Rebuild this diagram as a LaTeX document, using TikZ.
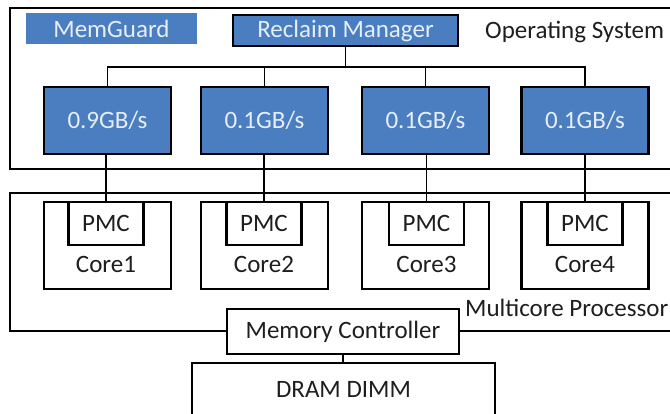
\documentclass[tikz,border=0pt]{standalone}
\usepackage{fontspec}
\setmainfont{Carlito}
\definecolor{boxblue}{HTML}{4A7EC0}
\definecolor{txtlight}{HTML}{E6EEF8}
\definecolor{ink}{HTML}{1E1E1E}
\tikzset{
  lbl/.style={font=\fontsize{25}{29}\selectfont, text=ink, inner sep=0pt},
  bluebox/.style={draw=black, line width=2.2pt, fill=boxblue, text=txtlight, font=\fontsize{25}{29}\selectfont, minimum width=127pt, minimum height=67pt, inner sep=0pt},
  corebox/.style={draw=black, line width=2.2pt, fill=white, minimum width=127pt, minimum height=87pt, inner sep=0pt},
  pmcbox/.style={draw=black, line width=2.2pt, fill=white, text=ink, font=\fontsize{25}{29}\selectfont, minimum width=75pt, minimum height=43pt, inner sep=0pt},
  plainbox/.style={draw=black, line width=2.2pt, fill=white, text=ink, font=\fontsize{25}{29}\selectfont, inner sep=0pt},
  frame/.style={draw=black, line width=2.2pt},
  wire/.style={draw=black, line width=1.3pt},
}
\begin{document}
\begin{tikzpicture}[x=1pt,y=-1pt]
\clip (0,0) rectangle (670,413);
\useasboundingbox (0,0) rectangle (670,413);
\fill[white] (0,0) rectangle (670,413);
% frames
\draw[frame] (10,8) rectangle (690,169);
\draw[frame] (10,193) rectangle (690,331);
% OS layer
\node[fill=boxblue, text=txtlight, font=\fontsize{25}{29}\selectfont, minimum width=171pt, minimum height=31pt, inner sep=0pt] (mg) at (111.5,28.5) {MemGuard};
\node[draw=black, line width=2.2pt, fill=boxblue, text=txtlight, font=\fontsize{25}{29}\selectfont, minimum width=225pt, minimum height=31pt, inner sep=0pt] (rm) at (345.5,30.5) {Reclaim Manager};
\node[lbl, anchor=west] (os) at (485,32) {Operating System};
\node[bluebox] (b1) at (107.5,120.5) {0.9GB/s};
\node[bluebox] (b2) at (264.5,120.5) {0.1GB/s};
\node[bluebox] (b3) at (425.5,120.5) {0.1GB/s};
\node[bluebox] (b4) at (585,120.5) {0.1GB/s};
\coordinate (bus) at (0,67);
\draw[wire] (b1.north) -- (b1.north |- bus) -- (b4.north |- bus) -- (b4.north);
\draw[wire] (b2.north) -- (b2.north |- bus);
\draw[wire] (b3.north) -- (b3.north |- bus);
\draw[wire] (rm.south) -- (rm.south |- bus);
% cores
\node[corebox] (c1) at (107.5,245.5) {};
\node[corebox] (c2) at (264.5,245.5) {};
\node[corebox] (c3) at (425.5,245.5) {};
\node[corebox] (c4) at (585,245.5) {};
\node[pmcbox] (p1) at (106,223.5) {PMC};
\node[pmcbox] (p2) at (264,223.5) {PMC};
\node[pmcbox] (p3) at (426.5,223.5) {PMC};
\node[pmcbox] (p4) at (585,223.5) {PMC};
\node[lbl] (l1) at (106,264) {Core1};
\node[lbl] (l2) at (264,264) {Core2};
\node[lbl] (l3) at (426.5,264) {Core3};
\node[lbl] (l4) at (585,264) {Core4};
\draw[wire] (b1.south -| p1.north) -- (p1.north);
\draw[wire] (b2.south -| p2.north) -- (p2.north);
\draw[wire] (b3.south -| p3.north) -- (p3.north);
\draw[wire] (b4.south -| p4.north) -- (p4.north);
\node[lbl, anchor=west] (mp) at (465,308) {Multicore Processor};
% memory
\node[plainbox, minimum width=232pt, minimum height=45pt] (mc) at (343,331.5) {Memory Controller};
\node[plainbox, minimum width=303pt, minimum height=52pt] (dram) at (343.5,389) {DRAM DIMM};
\draw[wire] (mc.south) -- (mc.south |- dram.north);
\end{tikzpicture}
\end{document}
